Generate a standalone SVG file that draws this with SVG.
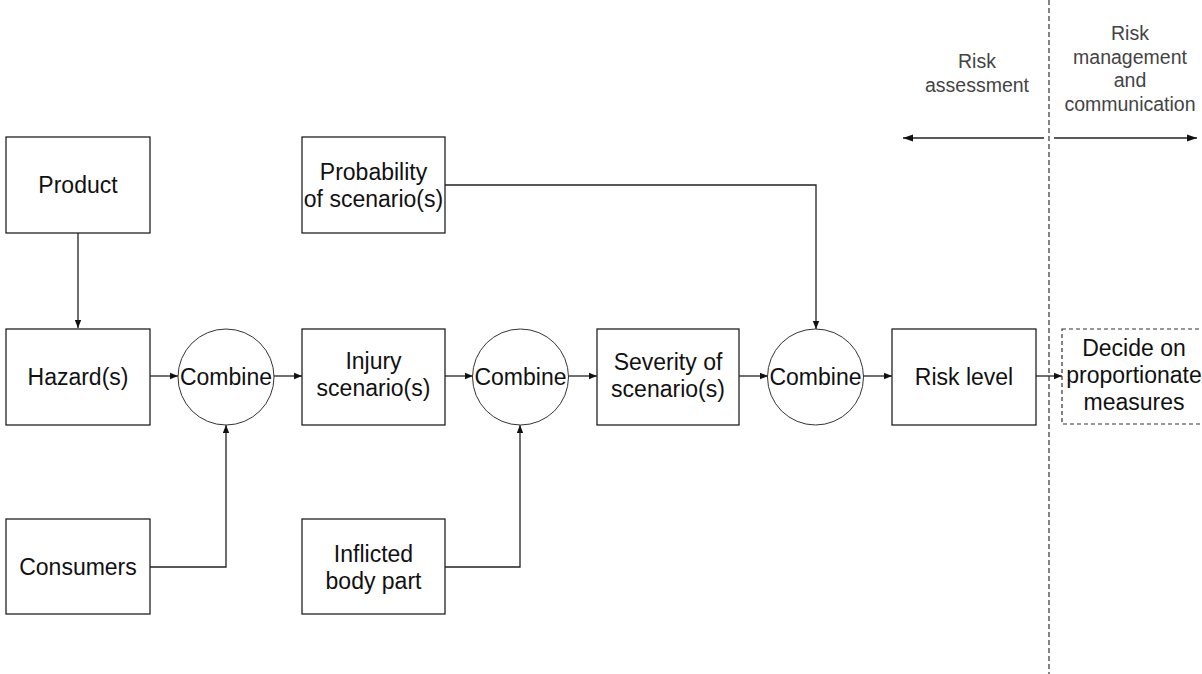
<svg xmlns="http://www.w3.org/2000/svg" width="1202" height="674" viewBox="0 0 1202 674">
<defs>
<style>
.box{fill:#fff;stroke:#222;stroke-width:1.3}
.dbox{fill:#fff;stroke:#333;stroke-width:1.2;stroke-dasharray:4,3}
.circ{fill:#fff;stroke:#333;stroke-width:1}
.lbl{font-family:"Liberation Sans",Arial,sans-serif;font-size:23px;fill:#111;text-anchor:middle}
.hdr{font-family:"Liberation Sans",Arial,sans-serif;font-size:19.5px;fill:#444;text-anchor:middle}
.con{fill:none;stroke:#222;stroke-width:1.3}
.sep{fill:none;stroke:#333;stroke-width:1.2;stroke-dasharray:5,3}
</style>
<marker id="ah" viewBox="0 0 10 10" refX="10" refY="5" markerWidth="8" markerHeight="8" markerUnits="userSpaceOnUse" orient="auto">
<path d="M0,1 L10,5 L0,9 Z" fill="#111"/>
</marker>
<marker id="ahb" viewBox="0 0 10 10" refX="10" refY="5" markerWidth="10" markerHeight="10" markerUnits="userSpaceOnUse" orient="auto">
<path d="M0,1.5 L10,5 L0,8.5 Z" fill="#111"/>
</marker>
</defs>
<rect width="1202" height="674" fill="#fff"/>

<g id="connectors">
<path class="con" d="M78,233 V328" marker-end="url(#ah)"/>
<path class="con" d="M150,376 H178" marker-end="url(#ah)"/>
<path class="con" d="M274,376 H302" marker-end="url(#ah)"/>
<path class="con" d="M445,376 H473" marker-end="url(#ah)"/>
<path class="con" d="M568,376 H597" marker-end="url(#ah)"/>
<path class="con" d="M739,376 H768" marker-end="url(#ah)"/>
<path class="con" d="M863,376 H892" marker-end="url(#ah)"/>
<path class="con" d="M1036,376 H1062" marker-end="url(#ah)"/>
<path class="con" d="M445,185 H816 V329" marker-end="url(#ah)"/>
<path class="con" d="M150,567 H226 V425" marker-end="url(#ah)"/>
<path class="con" d="M445,567 H520 V425" marker-end="url(#ah)"/>
<path class="con" d="M1044,138 H903" marker-end="url(#ahb)"/>
<path class="con" d="M1054,138 H1197" marker-end="url(#ahb)"/>
<path class="sep" d="M1049,0 V674"/>
</g>

<g id="product"><rect class="box" x="6" y="137" width="144" height="96"/><text class="lbl" x="78" y="193">Product</text></g>
<g id="hazard"><rect class="box" x="6" y="329" width="144" height="96"/><text class="lbl" x="78" y="385">Hazard(s)</text></g>
<g id="consumers"><rect class="box" x="6" y="519" width="144" height="95"/><text class="lbl" x="78" y="575">Consumers</text></g>
<g id="combine1"><circle class="circ" cx="226" cy="377" r="48"/><text class="lbl" x="226" y="385">Combine</text></g>
<g id="probability"><rect class="box" x="302" y="137" width="143" height="96"/><text class="lbl" x="373.5" y="180">Probability</text><text class="lbl" x="373.5" y="207">of scenario(s)</text></g>
<g id="injury"><rect class="box" x="302" y="329" width="143" height="96"/><text class="lbl" x="373.5" y="369">Injury</text><text class="lbl" x="373.5" y="396">scenario(s)</text></g>
<g id="inflicted"><rect class="box" x="302" y="519" width="143" height="95"/><text class="lbl" x="373.5" y="562">Inflicted</text><text class="lbl" x="373.5" y="589">body part</text></g>
<g id="combine2"><circle class="circ" cx="520.5" cy="377" r="48"/><text class="lbl" x="520.5" y="385">Combine</text></g>
<g id="severity"><rect class="box" x="597" y="329" width="142" height="96"/><text class="lbl" x="668" y="370">Severity of</text><text class="lbl" x="668" y="397">scenario(s)</text></g>
<g id="combine3"><circle class="circ" cx="815.5" cy="377" r="48"/><text class="lbl" x="815.5" y="385">Combine</text></g>
<g id="risklevel"><rect class="box" x="892" y="329" width="144" height="96"/><text class="lbl" x="964" y="385">Risk level</text></g>
<g id="decide"><rect class="dbox" x="1062" y="329" width="144" height="95"/><text class="lbl" x="1134" y="356">Decide on</text><text class="lbl" x="1134" y="383">proportionate</text><text class="lbl" x="1134" y="410">measures</text></g>
<g id="risk-assessment"><text class="hdr" x="977" y="68">Risk</text><text class="hdr" x="977" y="92">assessment</text></g>
<g id="risk-management"><text class="hdr" x="1130" y="40">Risk</text><text class="hdr" x="1130" y="64">management</text><text class="hdr" x="1130" y="87">and</text><text class="hdr" x="1130" y="111">communication</text></g>
</svg>
